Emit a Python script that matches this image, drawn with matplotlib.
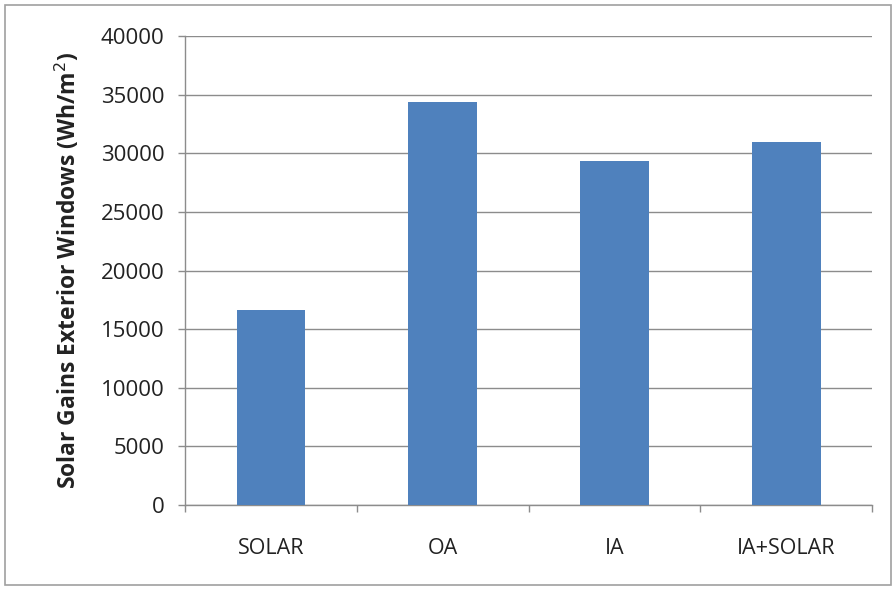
import matplotlib.pyplot as plt
from matplotlib.patches import Rectangle

categories = ['SOLAR', 'OA', 'IA', 'IA+SOLAR']
gains = [16600, 34400, 29300, 31000]
y_ticks = [0, 5000, 10000, 15000, 20000, 25000, 30000, 35000, 40000]

plt.rcParams['font.family'] = ['Open Sans', 'DejaVu Sans']

fig = plt.figure(figsize=(8.96, 5.9), dpi=100)
ax = fig.add_axes([0.2065, 0.144, 0.767, 0.795])

# outer chart border like excel
fig.patches.append(Rectangle((0.006, 0.008), 0.988, 0.984, transform=fig.transFigure,
                             fill=False, edgecolor='#a0a0a0', linewidth=1.2))

x = list(range(len(categories)))
ax.bar(x, gains, width=0.4, color='#4f81bd', zorder=3)

ax.set_xlim(-0.5, len(categories) - 0.5)
ax.set_ylim(0, 40000)
ax.set_yticks(y_ticks)
ax.set_yticklabels([str(t) for t in y_ticks], fontsize=16, color='#222222')
ax.yaxis.grid(True, color='#8c8c8c', linewidth=1.0, zorder=0)

ax.set_xticks(x)
ax.set_xticklabels(categories, fontsize=15.5, color='#222222')
ax.tick_params(axis='x', length=0, pad=24)
ax.set_xticks([i - 0.5 for i in range(len(categories) + 1)], minor=True)
ax.tick_params(axis='x', which='minor', length=5, color='#8c8c8c', width=1)
ax.tick_params(axis='y', length=5, color='#8c8c8c', width=1, pad=10)

for side in ['top', 'right']:
    ax.spines[side].set_visible(False)
for side in ['left', 'bottom']:
    ax.spines[side].set_color('#8c8c8c')
    ax.spines[side].set_linewidth(1.0)

ax.set_ylabel('Solar Gains Exterior Windows (Wh/m$^2$)', fontsize=16.5, fontweight='bold',
              color='#222222', labelpad=13)

fig.savefig('out.png', dpi=100)
